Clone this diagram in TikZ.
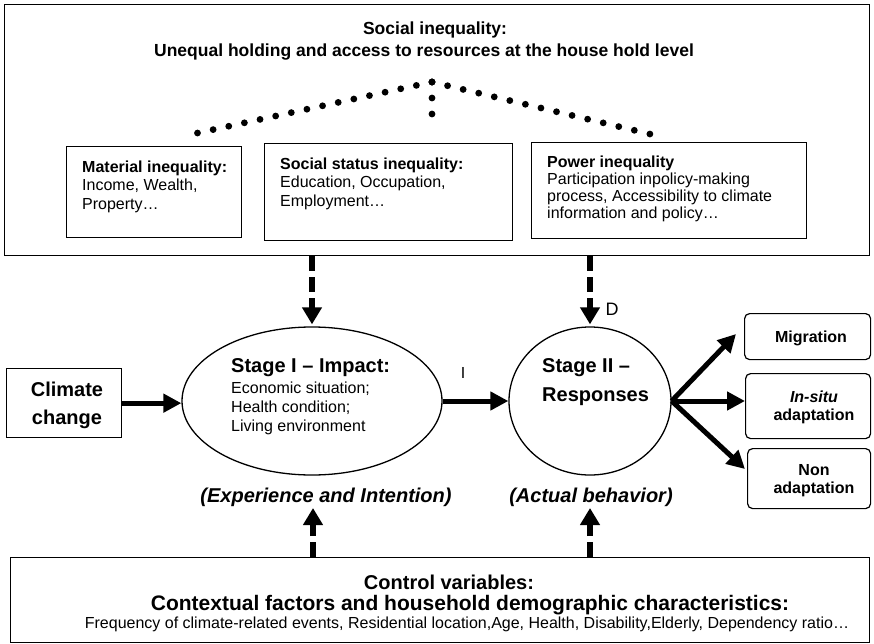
\documentclass[tikz,border=0pt]{standalone}
\usepackage{fontspec}
\setmainfont{Liberation Sans}
\usetikzlibrary{arrows.meta,shapes.geometric}
\begin{document}
\begin{tikzpicture}[x=1pt,y=-1pt,
  box/.style={draw,line width=1.3pt,inner sep=0pt,anchor=north west},
  rbox/.style={draw,line width=1.2pt,rounded corners=5pt,inner sep=0pt,anchor=north west},
  ell/.style={draw,ellipse,line width=1.3pt,inner sep=0pt},
  txt/.style={inner sep=0pt,align=left,anchor=north west},
  btxt/.style={inner sep=0pt,anchor=base west},
  ctxt/.style={inner sep=0pt,align=center,anchor=north},
  stxt/.style={inner sep=0pt,anchor=base},
  bigarrow/.style={line width=5pt,-{Triangle[length=18pt,width=18pt]}},
  dasharrow/.style={line width=6pt,dash pattern=on 15pt off 6pt,-{Triangle[length=17pt,width=19pt]}},
  dotline/.style={line width=6.8pt,line cap=round,dash pattern=on 0pt off 16pt},
  fa/.style={font=\fontsize{16}{18.5}\selectfont},
  fb/.style={font=\bfseries\fontsize{16}{18}\selectfont},
  fc/.style={font=\bfseries\fontsize{20}{28}\selectfont},
]
\useasboundingbox (0,0) rectangle (874,644);
% top box
\node[box,minimum width=865pt,minimum height=251pt] (top) at (4,4) {};
\node[stxt,font=\bfseries\fontsize{17.5}{20}\selectfont] (t1) at (435,35) {Social inequality:};
\node[stxt,font=\bfseries\fontsize{17.5}{20}\selectfont] (t2) at (424,57) {Unequal holding and access to resources at the house hold level};
% inner boxes
\node[box,minimum width=175pt,minimum height=91pt] (mat) at (66,146) {};
\node[txt,fa] (matt) at (82,160.3) {\textbf{Material inequality:}\\Income, Wealth,\\Property…};
\node[box,minimum width=248pt,minimum height=97pt] (soc) at (264,143) {};
\node[txt,fa] (soct) at (280,157.3) {\textbf{Social status inequality:}\\Education, Occupation,\\Employment…};
\node[box,minimum width=275pt,minimum height=96pt] (pow) at (531,142) {};
\node[txt,font=\fontsize{16}{17}\selectfont] (powt) at (547,155.3) {\textbf{Power inequality}\\Participation inpolicy-making\\process, Accessibility to climate\\information and policy…};
% dotted connectors
\coordinate (apex) at (432,82);
\coordinate (dl) at (193,134);
\coordinate (dm) at (432,130);
\coordinate (dr) at (654,135);
\draw[dotline] (apex) -- (dl);
\draw[dotline] (apex) -- (dm);
\draw[dotline] (apex) -- (dr);
% climate change
\node[box,minimum width=115pt,minimum height=69pt] (cc) at (6,368) {};
\node[ctxt,fc] (cct) at (67,381.4) {Climate\\change};
% ellipses
\node[ell,minimum width=260pt,minimum height=148pt] (e1) at (312,401) {};
\node[btxt,fc] (e1a) at (231,372) {Stage I – Impact:};
\node[txt,font=\fontsize{16}{19}\selectfont] (e1b) at (231,382) {Economic situation;\\Health condition;\\Living environment};
\node[ell,minimum width=162pt,minimum height=148pt] (e2) at (590,401) {};
\node[txt,font=\bfseries\fontsize{20}{29}\selectfont] (e2a) at (542,358.4) {Stage II –\\Responses};
\node[stxt,font=\fontsize{16}{18}\selectfont] (lI) at (463,378) {I};
\node[stxt,font=\fontsize{18}{20}\selectfont] (lD) at (612,315) {D};
% outcome boxes
\node[rbox,minimum width=126pt,minimum height=46pt] (mig) at (744,313) {};
\node[stxt,fb] (migt) at (811,342.6) {Migration};
\node[rbox,minimum width=125pt,minimum height=65pt] (ins) at (745,373) {};
\node[ctxt,fb] (inst) at (814,391) {\textit{In-situ}\\adaptation};
\node[rbox,minimum width=123pt,minimum height=60pt] (non) at (747,448) {};
\node[ctxt,fb] (nont) at (814,464) {Non\\adaptation};
% labels under ellipses
\node[stxt,font=\bfseries\itshape\fontsize{20}{22}\selectfont] (exp) at (326,502) {(Experience and Intention)};
\node[stxt,font=\bfseries\itshape\fontsize{20}{22}\selectfont] (act) at (591,502) {(Actual behavior)};
% bottom box
\node[box,minimum width=859pt,minimum height=85pt] (bot) at (10,557) {};
\node[stxt,font=\bfseries\fontsize{20}{22}\selectfont] (b1) at (449,589) {Control variables:};
\node[stxt,font=\bfseries\fontsize{21}{22}\selectfont] (b2) at (470,610) {Contextual factors and household demographic characteristics:};
\node[stxt,font=\fontsize{16}{17}\selectfont] (b3) at (467,628) {Frequency of climate-related events, Residential location,Age, Health, Disability,Elderly, Dependency ratio…};
% arrows
\draw[dasharrow,shorten >=2pt] (top.south -| e1.north) -- (e1.north);
\draw[dasharrow,shorten >=2pt] (top.south -| e2.north) -- (e2.north);
\coordinate (u1) at (313,508);
\coordinate (u2) at (590,508);
\draw[dasharrow] (bot.north -| u1) -- (u1);
\draw[dasharrow] (bot.north -| u2) -- (u2);
\draw[bigarrow] (cc.east) -- (cc.east -| e1.west);
\draw[bigarrow] (e1.east) -- (e2.west);
\coordinate (mt) at (736,334);
\coordinate (nt) at (745,469);
\draw[bigarrow] (e2.east) -- (mt);
\draw[bigarrow] (e2.east) -- (e2.east -| ins.west);
\draw[bigarrow] (e2.east) -- (nt);
\end{tikzpicture}
\end{document}
